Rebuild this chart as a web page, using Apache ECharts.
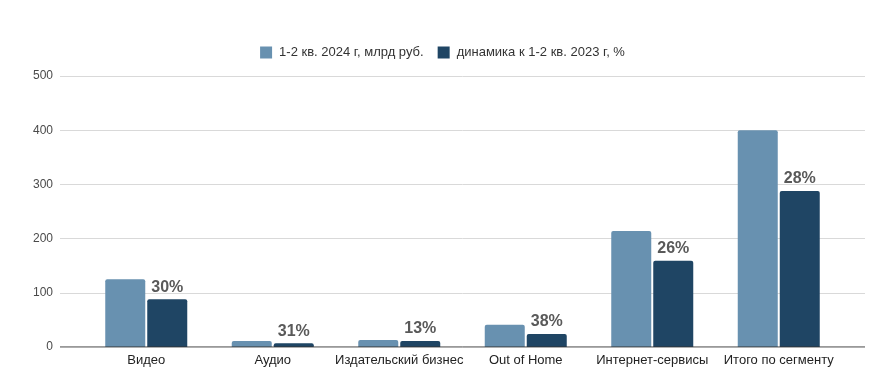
<!DOCTYPE html>
<html><head><meta charset="utf-8">
<script src="https://cdn.jsdelivr.net/npm/echarts@6/dist/echarts.min.js"></script>
<style>html,body{margin:0;padding:0;background:#fff}#c{width:885px;height:381px}</style>
</head><body><div id="c"></div>
<script>
const categories = ['Видео','Аудио','Издательский бизнес','Out of Home','Интернет-сервисы','Итого по сегменту'];
const seriesNames = ['1-2 кв. 2024 г, млрд руб.','динамика к 1-2 кв. 2023 г, %'];
const values2024 = [125, 11, 13, 41, 214, 400];
const valuesDyn = [88, 7, 11, 24, 159, 288];
const dynLabels = ['30%','31%','13%','38%','26%','28%'];
const yTicks = [0,100,200,300,400,500];

const font = 'Liberation Sans, Arial, sans-serif';
const chart = echarts.init(document.getElementById('c'));
const gTop = 76, gBottom = 381-347;
chart.setOption({
  backgroundColor:'#fff',
  animation:false,
  textStyle:{fontFamily:font},
  legend:{
    top:41, left:'center', itemWidth:12, itemHeight:12, itemGap:14,
    icon:'rect',
    textStyle:{fontSize:13,color:'#333',fontFamily:font,padding:[0,0,0,2]},
    data:seriesNames
  },
  grid:[
    {left:83, right:885-842, top:gTop, bottom:gBottom, containLabel:false},
    {left:60, right:885-865, top:gTop, bottom:gBottom, containLabel:false}
  ],
  xAxis:[
    {type:'category', gridIndex:0, data:categories,
     axisLine:{show:false}, axisTick:{show:false},
     axisLabel:{interval:0, fontSize:13,color:'#222',margin:7,fontFamily:font}},
    {type:'value', gridIndex:1, min:0, max:1, show:false}
  ],
  yAxis:[
    {type:'value', gridIndex:0, min:yTicks[0], max:yTicks[yTicks.length-1], interval:100, show:false},
    {type:'value', gridIndex:1, min:yTicks[0], max:yTicks[yTicks.length-1], interval:100,
     axisLine:{show:false}, axisTick:{show:false},
     axisLabel:{fontSize:12,color:'#4a4a4a',margin:7,fontFamily:font},
     splitLine:{lineStyle:{color:'#d9d9d9',width:1}}}
  ],
  series:[
    {name:seriesNames[0], type:'bar', xAxisIndex:0, yAxisIndex:0, data:values2024,
     barWidth:40, barGap:'5%', itemStyle:{color:'#6891b0', borderRadius:[2,2,0,0]}},
    {name:seriesNames[1], type:'bar', xAxisIndex:0, yAxisIndex:0, data:valuesDyn,
     barWidth:40, itemStyle:{color:'#1f4564', borderRadius:[2,2,0,0]},
     label:{show:true, position:'top', distance:4, fontSize:16, fontWeight:'bold', color:'#595959', fontFamily:font,
       formatter:p=>dynLabels[p.dataIndex]}},
    {type:'line', xAxisIndex:1, yAxisIndex:1, data:[[0,0],[1,0]], symbol:'none', silent:true,
     lineStyle:{color:'#333',width:1}, z:5}
  ]
});
</script></body></html>
